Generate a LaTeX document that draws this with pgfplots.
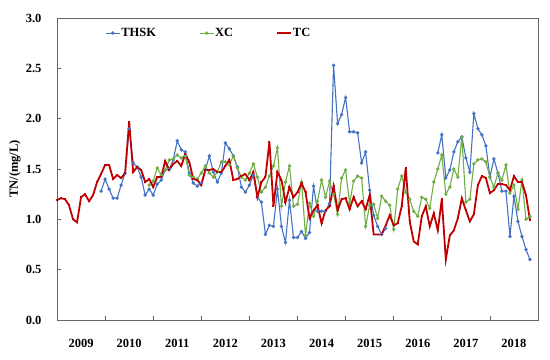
\documentclass[border=0pt]{standalone}
\usepackage{pgfplots}
\pgfplotsset{compat=1.18}
\usepackage{pgfplotstable}
\usepackage{fontspec}
\setmainfont{Liberation Serif}
\usetikzlibrary{calc}
\definecolor{cblue}{HTML}{4472C4}
\definecolor{cgreen}{HTML}{70AD47}
\definecolor{cred}{HTML}{C00000}
\pgfplotstableread{
m thsk xc tc
0 nan nan 1.19
1 nan nan 1.21
2 nan nan 1.20
3 nan nan 1.14
4 nan nan 1.00
5 nan nan 0.97
6 nan nan 1.22
7 nan nan 1.25
8 nan nan 1.18
9 nan nan 1.24
10 nan nan 1.37
11 1.28 nan 1.45
12 1.40 nan 1.54
13 1.30 nan 1.54
14 1.21 nan 1.40
15 1.21 nan 1.44
16 1.34 nan 1.41
17 1.46 nan 1.46
18 1.90 nan 1.97
19 1.56 nan 1.47
20 1.52 nan 1.52
21 1.42 nan 1.49
22 1.24 nan 1.37
23 1.30 1.34 1.40
24 1.24 1.38 1.32
25 1.35 1.51 1.42
26 1.39 1.44 1.42
27 1.49 1.49 1.58
28 1.50 1.59 1.49
29 1.59 1.60 1.55
30 1.78 1.64 1.58
31 1.69 1.61 1.53
32 1.67 1.63 1.65
33 1.46 1.44 1.57
34 1.36 1.42 1.40
35 1.33 1.40 1.39
36 1.36 1.46 1.34
37 1.49 1.53 1.49
38 1.63 1.46 1.49
39 1.47 1.42 1.50
40 1.37 1.47 1.47
41 1.46 1.57 1.47
42 1.76 1.57 1.53
43 1.70 1.54 1.59
44 1.63 1.63 1.39
45 1.52 1.51 1.40
46 1.32 1.42 1.43
47 1.27 1.39 1.45
48 1.34 1.46 1.39
49 1.44 1.55 1.47
50 1.22 1.42 1.22
51 1.17 1.27 1.37
52 0.85 1.32 1.42
53 0.94 1.43 1.77
54 0.93 1.53 1.13
55 1.30 1.71 1.47
56 0.93 1.13 1.39
57 0.77 1.37 1.17
58 1.19 1.53 1.32
59 0.82 1.13 1.22
60 0.82 1.15 1.27
61 0.88 1.37 1.36
62 0.81 0.84 1.27
63 0.87 1.16 1.01
64 1.33 1.03 1.09
65 1.08 1.18 1.14
66 1.08 1.39 0.96
67 1.08 1.22 1.09
68 1.16 1.38 1.13
69 2.53 1.25 1.33
70 1.95 1.05 1.09
71 2.04 1.41 1.20
72 2.21 1.49 1.21
73 1.87 1.16 1.10
74 1.87 1.38 1.22
75 1.86 1.43 1.13
76 1.56 1.41 1.18
77 1.67 0.93 1.10
78 1.29 1.14 1.24
79 1.04 1.15 0.85
80 0.93 1.01 0.85
81 0.85 1.23 0.85
82 0.91 1.18 0.94
83 nan 1.14 1.04
84 nan 0.90 0.94
85 nan 1.30 0.96
86 nan 1.43 1.13
87 nan 1.27 1.51
88 nan 1.20 0.98
89 nan 1.08 0.78
90 nan 1.03 0.75
91 nan 1.22 1.03
92 nan 1.20 1.13
93 nan 1.11 0.93
94 nan 1.37 1.06
95 1.66 1.50 0.89
96 1.84 1.64 1.20
97 1.41 1.25 0.60
98 1.49 1.32 0.84
99 1.67 1.50 0.89
100 1.77 1.42 1.01
101 1.82 1.82 1.21
102 1.61 1.17 1.09
103 1.47 1.20 0.98
104 2.05 1.55 1.05
105 1.90 1.59 1.34
106 1.84 1.60 1.43
107 1.73 1.57 1.41
108 1.42 1.42 1.26
109 1.60 1.32 1.29
110 1.46 1.46 1.35
111 1.28 1.39 1.35
112 1.28 1.54 1.34
113 0.83 1.26 1.29
114 1.23 1.34 1.43
115 0.98 1.10 1.37
116 0.83 1.39 1.37
117 0.70 1.00 1.24
118 0.60 1.03 0.99
}\datatable
\begin{document}
\begin{tikzpicture}
\begin{axis}[
  scale only axis,
  width=481bp, height=302bp,
  xmin=0, xmax=120, ymin=0, ymax=3,
  font=\fontsize{12.5bp}{15bp}\selectfont\bfseries,
  axis line style={black!60, line width=0.8bp},
  tick style={black!60, line width=0.8bp},
  tick align=inside,
  major tick length=4bp,
  xtick={12,24,...,108},
  xticklabels={},
  extra x ticks={6,18,30,42,54,66,78,90,102,114},
  extra x tick labels={2009,2010,2011,2012,2013,2014,2015,2016,2017,2018},
  extra x tick style={major tick length=0pt, xticklabel style={yshift=-16bp}},
  xtick pos=bottom,
  ytick={0,0.5,...,3},
  ytick pos=left,
  /pgf/number format/assume math mode=true,
  yticklabel style={xshift=-12bp, /pgf/number format/.cd, fixed, fixed zerofill, precision=1},
  ylabel={TN/(mg/L)},
  ylabel style={at={(axis description cs:-0.0873,0.5)}, anchor=center},
  unbounded coords=jump,
  legend columns=3,
  legend cell align=left,
  legend style={at={(axis description cs:0.0936,0.95)}, anchor=west, draw=none, fill=none,
    nodes={inner sep=1bp},
    /tikz/every even column/.append style={column sep=42bp}},
  legend image code/.code={\draw[mark repeat=2,mark phase=2,#1] plot coordinates {(0bp,0bp) (7bp,0bp) (14bp,0bp)};},
]
\addplot[color=cblue, line width=1.1bp, mark=*, mark size=1.1bp] table[x=m, y=thsk] {\datatable};
\addlegendentry{THSK}
\addplot[color=cgreen, line width=1.1bp, mark=*, mark size=1.1bp] table[x=m, y=xc] {\datatable};
\addlegendentry{XC}
\addplot[color=cred, line width=1.8bp, mark=-, mark size=1bp] table[x=m, y=tc] {\datatable};
\addlegendentry{TC}
\end{axis}
\path ($(current axis.south west)+(-57bp,-40bp)$) rectangle ($(current axis.north east)+(12bp,18bp)$);
\end{tikzpicture}
\end{document}
